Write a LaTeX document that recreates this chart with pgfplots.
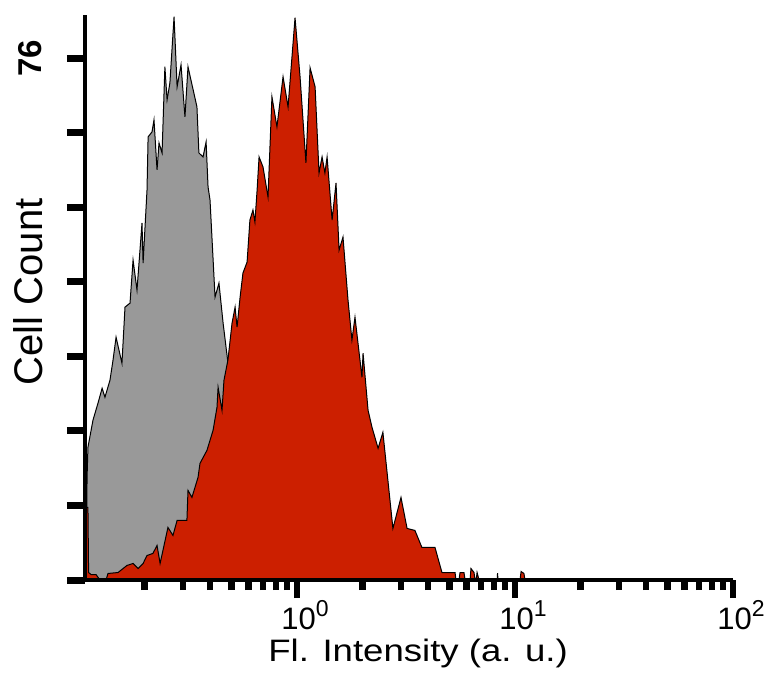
\documentclass[border=0pt]{standalone}
\usepackage{fontspec}
\setmainfont{Liberation Sans}
\usepackage{graphicx}
\usepackage{pgfplots}
\pgfplotsset{compat=1.18}
\definecolor{redfill}{RGB}{204,31,0}
\definecolor{grayfill}{RGB}{153,153,153}
\newcommand{\tl}[1]{10\raisebox{0.42em}{\fontsize{23}{23}\selectfont #1}}

% x = log10(fluorescence intensity), y = cell count
\pgfplotstableread{
x y
-0.968 0
-0.963 14.95
-0.959 19.33
-0.936 23.27
-0.913 25.75
-0.894 27.93
-0.881 26.62
-0.858 29.10
-0.844 32.02
-0.830 35.37
-0.803 31.58
-0.789 39.75
-0.766 40.33
-0.752 46.61
-0.734 42.23
-0.711 52.00
-0.706 46.17
-0.688 56.82
-0.683 64.55
-0.665 65.28
-0.656 67.03
-0.642 59.73
-0.633 63.67
-0.619 62.21
-0.606 74.76
-0.596 69.94
-0.583 72.42
-0.564 82.05
-0.550 71.84
-0.532 75.05
-0.514 67.46
-0.500 74.76
-0.459 68.92
-0.450 62.21
-0.431 61.63
-0.417 63.82
-0.408 57.25
-0.399 55.36
-0.376 41.21
-0.358 43.25
-0.339 37.42
-0.321 32.75
-0.284 23.27
-0.239 14.51
-0.193 7.22
-0.147 2.12
-0.078 0
}\graydata

\pgfplotstableread{
x y
-0.968 0
-0.966 10.58
-0.959 10.58
-0.956 1.09
-0.945 0.80
-0.922 0.80
-0.904 0
-0.876 0
-0.867 0.95
-0.821 1.09
-0.780 2.12
-0.752 2.41
-0.729 1.68
-0.706 2.41
-0.688 3.57
-0.661 3.87
-0.642 5.03
-0.628 2.41
-0.615 4.30
-0.592 7.66
-0.569 6.49
-0.550 8.68
-0.505 8.68
-0.500 13.06
-0.482 12.03
-0.454 14.95
-0.445 16.99
-0.413 18.89
-0.385 21.81
-0.367 25.16
-0.362 28.08
-0.344 24.72
-0.335 29.10
-0.317 32.02
-0.298 37.42
-0.284 39.75
-0.275 36.83
-0.261 41.21
-0.248 44.71
-0.229 46.31
-0.216 52.44
-0.202 53.90
-0.193 52.15
-0.183 56.82
-0.174 61.63
-0.156 60.17
-0.133 55.80
-0.115 70.38
-0.092 66.01
-0.064 73.30
-0.041 68.92
-0.009 81.91
0.014 73.30
0.041 60.75
0.060 74.61
0.083 71.84
0.101 59.30
0.115 61.63
0.128 59.30
0.138 61.63
0.161 52.44
0.179 57.84
0.193 48.06
0.211 49.96
0.234 40.77
0.252 34.94
0.266 38.29
0.298 29.54
0.303 33.04
0.326 24.72
0.344 22.25
0.372 19.18
0.394 21.52
0.440 7.51
0.477 12.03
0.505 7.51
0.541 7.22
0.573 4.74
0.633 4.74
0.665 1.09
0.725 1.09
0.729 0
0.743 0
0.748 1.09
0.766 1.09
0.771 0
0.794 0
0.798 1.68
0.812 1.09
0.817 0
0.822 0
0.826 1.09
0.835 0
0.918 0
0.920 1.0
0.922 0
1.023 0
1.028 1.24
1.041 0.95
1.046 0
2.0 0
}\reddata

\begin{document}
\begin{tikzpicture}[x=1pt,y=1pt]
\path[use as bounding box] (0,0) rectangle (769,673);
\begin{axis}[
  at={(85pt,93pt)}, anchor=south west,
  scale only axis, width=648pt, height=565pt,
  xmin=-0.9725, xmax=2, ymin=0, ymax=82.3,
  axis x line=bottom, axis y line=left,
  axis line style={line width=4.5pt, -},
  axis on top,
  xtick={0,1,2},
  xticklabels={\tl{0},\tl{1},\tl{2}},
  minor xtick={-0.699,-0.523,-0.398,-0.301,-0.222,-0.155,-0.097,-0.046,
    0.301,0.477,0.602,0.699,0.778,0.845,0.903,0.954,
    1.301,1.477,1.602,1.699,1.778,1.845,1.903,1.954},
  ytick={0,10.857,21.714,32.571,43.429,54.286,65.143,76},
  yticklabels={,,,,,,,76},
  tick align=outside,
  x tick style={line width=6.5pt, black},
  y tick style={line width=7pt, black},
  major tick length=18pt, minor tick length=10pt,
  xticklabel style={font=\fontsize{31}{36}\selectfont, anchor=north, xshift=8pt, inner sep=0pt, yshift=-2pt},
  yticklabel style={font=\bfseries\fontsize{33}{38}\selectfont, rotate=90, anchor=south, inner sep=0pt},
  yticklabel shift=25pt,
  xlabel={\scalebox{1.18}[1]{Fl. Intensity (a. u.)}},
  ylabel={Cell Count},
  xlabel style={font=\fontsize{31}{36}\selectfont, anchor=base, at={(axis description cs:0.514,0)}, yshift=-81pt},
  ylabel style={font=\fontsize{40}{46}\selectfont, anchor=center, at={(axis description cs:-0.088,0.51)}},
]
\addplot[fill=grayfill, draw=black, line width=1pt] table[x=x,y=y] {\graydata} \closedcycle;
\addplot[fill=redfill, draw=black, line width=1pt] table[x=x,y=y] {\reddata} \closedcycle;
\end{axis}
\end{tikzpicture}
\end{document}
